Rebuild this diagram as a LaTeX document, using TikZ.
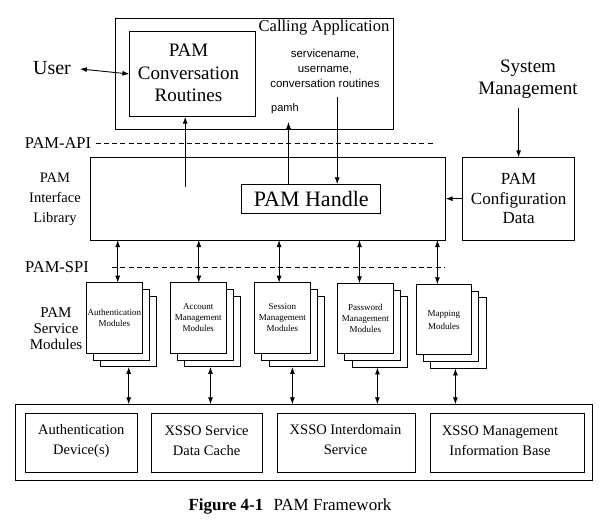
\documentclass[tikz,border=0pt]{standalone}
\usepackage{fontspec}
\setmainfont{Liberation Serif}
\newfontfamily\sansf{Liberation Sans}
\usetikzlibrary{arrows.meta}
\newcommand\myfs[2]{\fontsize{#1}{#2}\selectfont}
\begin{document}
\begin{tikzpicture}[x=1pt,y=-1pt, line width=0.9pt,
  box/.style={draw, inner sep=0pt, outer sep=0pt, fill=white},
  txt/.style={inner sep=0pt, outer sep=0pt, align=center},
  tip/.style={-{Latex[length=7pt,width=5pt]}},
  dtip/.style={{Latex[length=7pt,width=5pt]}-{Latex[length=7pt,width=5pt]}},
  dashline/.style={dash pattern=on 5pt off 3.3pt, line width=0.7pt},
  modbox/.style={box, minimum width=55.7pt, minimum height=70.6pt, anchor=north west},
  modtxt/.style={align=center, font=\myfs{9}{11}}]
\useasboundingbox (0,0) rectangle (611,526);

% Calling application
\node[box, minimum width=278pt, minimum height=111pt] (app) at (254.8,73.8) {};
\node[box, minimum width=126pt, minimum height=85.4pt] (conv) at (192.4,74) {};
\node[txt, font=\myfs{19}{22.5}] (convtxt) at (188.5,73) {PAM\\Conversation\\Routines};
\node[txt, font=\myfs{16.5}{19}] (apptxt) at (324,27.5) {Calling Application};
\node[txt, font=\sansf\myfs{11.5}{15}] (args) at (325,68) {servicename,\\username,\\conversation routines};
\node[txt, font=\sansf\myfs{11}{13}] (pamh) at (285,108.5) {pamh};

\node[txt, font=\myfs{20}{22}] (user) at (52,68) {User};
\node[txt, font=\myfs{19}{22}] (sm) at (528,79) {System\\Management};

% API line
\node[txt, font=\myfs{16.5}{19}] (api) at (58,143) {PAM-API};
\coordinate (apiA) at (95.5,143);
\coordinate (apiB) at (432.7,143);
\draw[dashline] (apiA) -- (apiB);

% Interface library
\node[box, minimum width=355.2pt, minimum height=82.7pt] (iface) at (268,198.7) {};
\node[box, minimum width=139.2pt, minimum height=29pt, font=\myfs{22}{24}] (handle) at (311.3,198.8) {PAM Handle};
\node[box, minimum width=112pt, minimum height=82.7pt, align=center, font=\myfs{17}{19.7}] (config) at (518.6,198.7) {PAM\\Configuration\\Data};
\node[txt, font=\myfs{14.5}{20}] (ilib) at (55,199.5) {PAM\\Interface\\Library};

% SPI line
\node[txt, font=\myfs{16.5}{19}] (spi) at (57,267.3) {PAM-SPI};
\coordinate (spiA) at (111.9,267);
\coordinate (spiB) at (444.4,267);
\draw[dashline] (spiA) -- (spiB);

\node[txt, font=\myfs{15}{15.7}] (smod) at (56,328.5) {PAM\\Service\\Modules};

% Module stacks
\foreach \i/\x/\y/\t in {1/86.5/282.7/{Authentication\\Modules},
                         2/170.4/282.7/{Account\\Management\\Modules},
                         3/254.6/282.7/{Session\\Management\\Modules},
                         4/337.6/283.3/{Password\\Management\\Modules},
                         5/416/284.3/{Mapping\\[2pt]Modules}}{
  \node[modbox] (mt\i) at (\x+14.4,\y+13.6) {};
  \node[modbox] (ms\i) at (\x+7.2,\y+6.8) {};
  \node[modbox] (mf\i) at (\x,\y) {};
  \node[modtxt] (mtxt\i) at (mf\i.center) {\t};
}

% Bottom services
\node[box, minimum width=577.1pt, minimum height=76pt] (base) at (304.15,442.3) {};
\node[box, minimum width=111.7pt, minimum height=59pt] (b1) at (81.55,443) {};
\node[box, minimum width=110.5pt, minimum height=59pt] (b2) at (206.75,443) {};
\node[box, minimum width=137.6pt, minimum height=59pt] (b3) at (346.4,443) {};
\node[box, minimum width=153.7pt, minimum height=59pt] (b4) at (507.65,443) {};
\node[txt, font=\myfs{14.5}{20}] (b1t) at (81.3,441) {Authentication\\Device(s)};
\node[txt, font=\myfs{14.5}{20}] (b2t) at (206.6,441) {XSSO Service\\Data Cache};
\node[txt, font=\myfs{14.5}{20}] (b3t) at (345.5,439.5) {XSSO Interdomain\\Service};
\node[txt, font=\myfs{14.5}{20}] (b4t) at (500,440.5) {XSSO Management\\Information Base};

\node[txt, font=\myfs{17}{19}] (cap) at (290,506) {\textbf{Figure 4-1}\hspace{0.6em}PAM Framework};

% Connectors
\draw[dtip, shorten <=9pt] (user.east) -- (conv.west);
\coordinate (convsrc) at (185.2,186.7);
\draw[tip] (convsrc) -- (conv.south -| convsrc);
\coordinate (pamhtip) at (288.5,122);
\draw[tip] (handle.north -| pamhtip) -- (pamhtip);
\coordinate (crsrc) at (337.2,96.7);
\draw[tip] (crsrc) -- (handle.north -| crsrc);
\coordinate (smsrc) at (518.6,108.3);
\draw[tip] (smsrc) -- (config.north);
\draw[tip] (config.west) -- (iface.east);

\foreach \i/\ux/\lx in {1/117.7/128.7, 2/198.8/210.5, 3/279.1/292.4, 4/359.5/377.4, 5/437.4/455.4}{
  \coordinate (ua\i) at (\ux,0);
  \coordinate (la\i) at (\lx,0);
  \draw[dtip] (iface.south -| ua\i) -- (mf\i.north -| ua\i);
  \draw[dtip] (mt\i.south -| la\i) -- (base.north -| la\i);
}
\end{tikzpicture}
\end{document}
